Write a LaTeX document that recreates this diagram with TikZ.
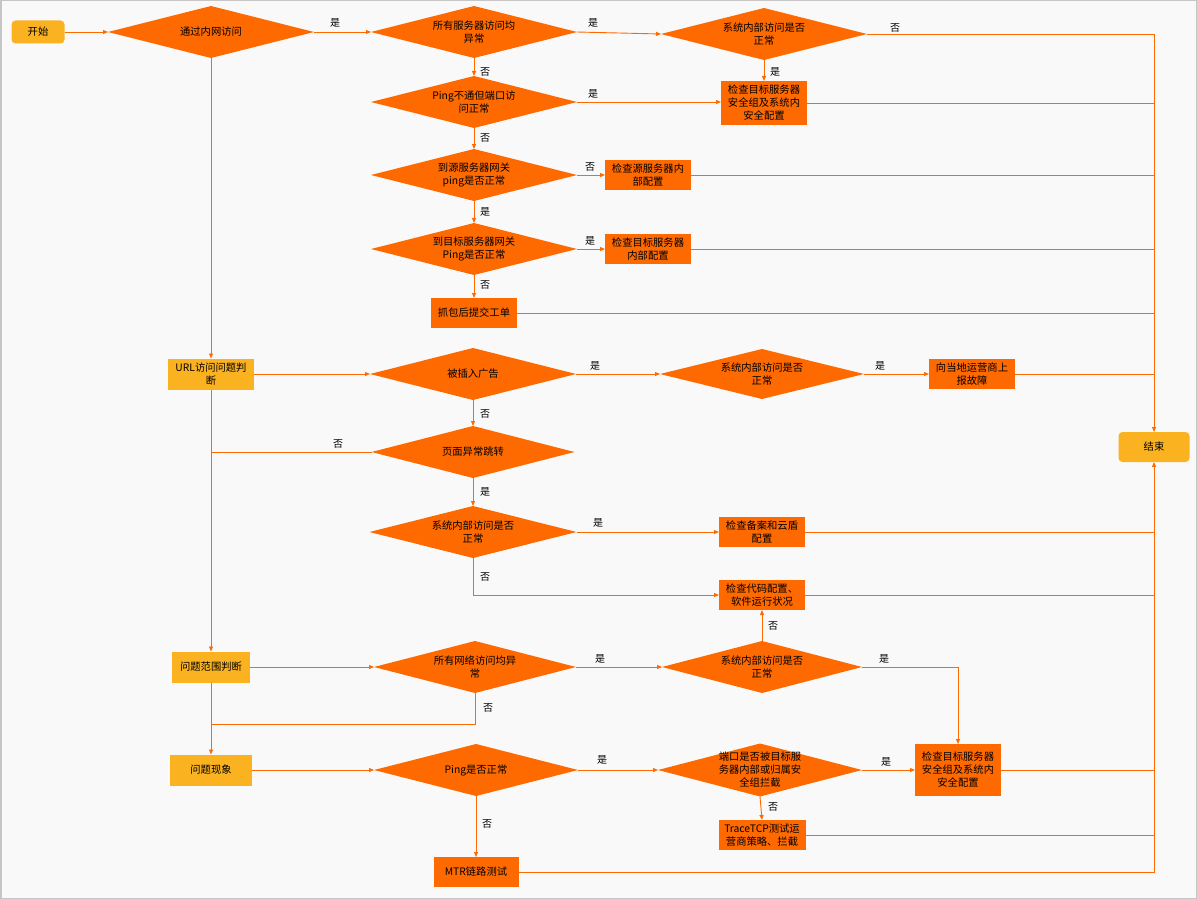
\documentclass[tikz,border=0pt]{standalone}
\usepackage{fontspec}
\newfontfamily\cjk{Noto Sans CJK SC}
\usetikzlibrary{shapes.geometric,arrows.meta}
\definecolor{orf}{HTML}{FF6A00}
\definecolor{yel}{HTML}{FAB220}
\definecolor{bgc}{HTML}{F9F9F9}
\begin{document}
\begin{tikzpicture}[x=1pt,y=-1pt,
 every node/.style={font=\cjk\fontsize{10.3}{13}\selectfont, text=black},
 dia/.style={shape=diamond, fill=orf, draw=none, inner sep=0pt, outer sep=0pt, minimum width=206pt, minimum height=52pt},
 dt/.style={align=center, inner sep=0pt},
 box/.style={rectangle, fill=orf, draw=none, inner sep=0pt, outer sep=0pt, minimum width=86pt, minimum height=30pt, align=center},
 ybox/.style={box, fill=yel},
 term/.style={ybox, rounded corners=4pt},
 ar/.style={draw=orf, line width=0.9pt, -{Triangle[length=5pt,width=4pt]}},
 ln/.style={draw=orf, line width=0.9pt},
 lab/.style={inner sep=0pt, font=\cjk\fontsize{10}{12}\selectfont}
]
\useasboundingbox (0,0) rectangle (1197,899);
\fill[bgc] (0,0) rectangle (1197,899);
\draw[gray!45, line width=1.5pt] (0.75,0.75) rectangle (1196.25,898.25);

% nodes
\node[term, minimum width=53pt, minimum height=23pt] (st) at (38,32) {开始};
\node[dia, label={[dt]center:通过内网访问}] (d1) at (211,32) {};
\node[dia, label={[dt]center:{所有服务器访问均\\异常}}] (d2) at (474,32) {};
\node[dia, label={[dt]center:{系统内部访问是否\\正常}}] (d3) at (764,34) {};
\node[box, minimum height=44pt] (b1) at (764,103) {检查目标服务器\\安全组及系统内\\安全配置};
\node[dia, label={[dt]center:{Ping不通但端口访\\问正常}}] (d4) at (474,102) {};
\node[dia, label={[dt]center:{到源服务器网关\\ping是否正常}}] (d5) at (474,175) {};
\node[box] (b2) at (648,175) {检查源服务器内\\部配置};
\node[dia, label={[dt]center:{到目标服务器网关\\Ping是否正常}}] (d6) at (474,249) {};
\node[box] (b3) at (648,249) {检查目标服务器\\内部配置};
\node[box] (b4) at (474,313) {抓包后提交工单};

\node[ybox, minimum height=31pt] (y1) at (211,374) {URL访问问题判\\断};
\node[dia, label={[dt]center:被插入广告}] (d7) at (473,374) {};
\node[dia, minimum width=204pt, minimum height=50pt, label={[dt]center:{系统内部访问是否\\正常}}] (d8) at (762,374) {};
\node[box] (b5) at (972,374) {向当地运营商上\\报故障};
\node[term, minimum width=71pt, minimum height=30pt] (en) at (1154,447) {结束};
\node[dia, minimum width=203pt, label={[dt]center:页面异常跳转}] (d9) at (473,452) {};
\node[dia, minimum width=207pt, label={[dt]center:{系统内部访问是否\\正常}}] (d10) at (473,532) {};
\node[box] (b6) at (762,532) {检查备案和云盾\\配置};
\node[box] (b7) at (762,595) {检查代码配置、\\软件运行状况};

\node[ybox, minimum width=78pt, minimum height=31pt] (y2) at (211,667) {问题范围判断};
\node[dia, minimum width=202pt, label={[dt]center:{所有网络访问均异\\常}}] (d11) at (475,667) {};
\node[dia, minimum width=200pt, label={[dt]center:{系统内部访问是否\\正常}}] (d12) at (762,667) {};
\node[box, minimum height=52pt] (b8) at (958,770) {检查目标服务器\\安全组及系统内\\安全配置};
\node[ybox, minimum width=82pt, minimum height=31pt] (y3) at (211,770) {问题现象};
\node[dia, minimum width=204pt, label={[dt]center:Ping是否正常}] (d13) at (476,770) {};
\node[dia, minimum width=204pt, minimum height=53pt, label={[dt]center:{端口是否被目标服\\务器内部或归属安\\全组拦截}}] (d14) at (760,770) {};
\node[box, minimum width=87pt] (b9) at (762,835) {TraceTCP测试运\\营商策略、拦截};
\node[box, minimum width=85pt] (b10) at (476,872) {MTR链路测试};
\coordinate (j2) at (211,724);

% connectors
\draw[ar] (st.east) -- (d1.west);
\draw[ar] (d1.east) -- (d2.west);
\draw[ar] (d2.east) -- (d3.west);
\draw[ar] (d3.east) -| (en.north);
\draw[ar] (d3.south) -- (b1.north);
\draw[ar] (d2.south) -- (d4.north);
\draw[ar] (d4.east) -- (d4.east -| b1.west);
\draw[ln] (b1.east) -- (b1.east -| en);
\draw[ar] (d4.south) -- (d5.north);
\draw[ar] (d5.east) -- (b2.west);
\draw[ln] (b2.east) -- (b2.east -| en);
\draw[ar] (d5.south) -- (d6.north);
\draw[ar] (d6.east) -- (b3.west);
\draw[ln] (b3.east) -- (b3.east -| en);
\draw[ar] (d6.south) -- (b4.north);
\draw[ln] (b4.east) -- (b4.east -| en);
\draw[ar] (d1.south) -- (y1.north);
\draw[ar] (y1.east) -- (d7.west);
\draw[ar] (d7.east) -- (d8.west);
\draw[ar] (d8.east) -- (b5.west);
\draw[ln] (b5.east) -- (b5.east -| en);
\draw[ar] (d7.south) -- (d9.north);
\draw[ln] (d9.west) -- (d9.west -| y1.south);
\draw[ar] (d9.south) -- (d10.north);
\draw[ar] (d10.east) -- (b6.west);
\draw[ln] (b6.east) -- (b6.east -| en);
\draw[ar] (d10.south) |- (b7.west);
\draw[ln] (b7.east) -- (b7.east -| en);
\draw[ar] (y1.south) -- (y2.north);
\draw[ar] (y2.east) -- (d11.west);
\draw[ar] (d11.east) -- (d12.west);
\draw[ar] (d12.north) -- (b7.south);
\draw[ar] (d12.east) -| (b8.north);
\draw[ln] (d11.south) |- (j2);
\draw[ar] (y2.south) -- (y3.north);
\draw[ar] (y3.east) -- (d13.west);
\draw[ar] (d13.east) -- (d14.west);
\draw[ar] (d14.east) -- (b8.west);
\draw[ln] (b8.east) -- (b8.east -| en);
\draw[ar] (d14.south) -- (b9.north);
\draw[ln] (b9.east) -- (b9.east -| en);
\draw[ar] (d13.south) -- (b10.north);
\draw[ar] (b10.east) -| (en.south);

% branch labels
\node[lab] (l1) at (335,23) {是};
\node[lab] (l2) at (593,23) {是};
\node[lab] (l3) at (895,28) {否};
\node[lab] (l4) at (775,72) {是};
\node[lab] (l5) at (485,72) {否};
\node[lab] (l6) at (593,94) {是};
\node[lab] (l7) at (485,138) {否};
\node[lab] (l8) at (590,167) {否};
\node[lab] (l9) at (485,212) {是};
\node[lab] (l10) at (590,241) {是};
\node[lab] (l11) at (485,285) {否};
\node[lab] (l12) at (595,366) {是};
\node[lab] (l13) at (880,366) {是};
\node[lab] (l14) at (485,414) {否};
\node[lab] (l15) at (338,444) {否};
\node[lab] (l16) at (485,492) {是};
\node[lab] (l17) at (598,523) {是};
\node[lab] (l18) at (485,577) {否};
\node[lab] (l19) at (600,659) {是};
\node[lab] (l20) at (773,626) {否};
\node[lab] (l21) at (884,659) {是};
\node[lab] (l22) at (488,708) {否};
\node[lab] (l23) at (602,760) {是};
\node[lab] (l24) at (886,762) {是};
\node[lab] (l25) at (773,807) {否};
\node[lab] (l26) at (487,824) {否};
\end{tikzpicture}
\end{document}
